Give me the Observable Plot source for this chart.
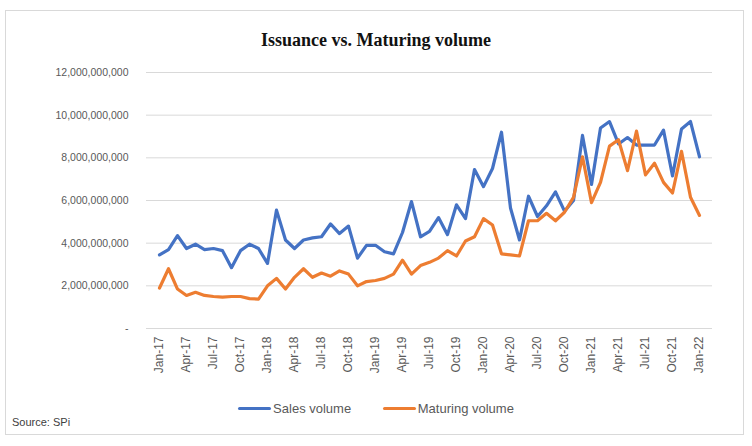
<!DOCTYPE html>
<html>
<head>
<meta charset="utf-8">
<script src="https://cdn.jsdelivr.net/npm/d3@7"></script>
<script src="https://cdn.jsdelivr.net/npm/@observablehq/plot@0.6"></script>
<style>
  html, body { margin: 0; padding: 0; background: #fff; }
  #wrap { position: relative; width: 752px; height: 446px; overflow: hidden; background: #fff; }
  #frame { position: absolute; left: 5px; top: 10px; width: 739px; height: 425px; border: 1px solid #d9d9d9; box-sizing: border-box; }
  #title { position: absolute; left: 0; width: 752px; top: 30px; text-align: center;
           font-family: "Liberation Serif", "DejaVu Serif", serif; font-weight: bold; font-size: 18px; color: #111; }
  #chart { position: absolute; left: 0; top: 60px; }
  #legend { position: absolute; left: 0; width: 752px; top: 398px; text-align: center;
            font-family: "Liberation Sans", sans-serif; font-size: 13px; color: #595959; }
  #legend .item { display: inline-flex; align-items: center; margin: 0 14px; }
  #legend .sw { display: inline-block; width: 33px; height: 3px; margin-right: 2px; border-radius: 2px; }
  #source { position: absolute; left: 12px; top: 416px; font-family: "Liberation Sans", sans-serif;
            font-size: 11px; color: #404040; }
</style>
</head>
<body>
<div id="wrap">
  <div id="frame"></div>
  <div id="title">Issuance vs. Maturing volume</div>
  <div id="chart"></div>
  <div id="legend">
    <span class="item"><span class="sw" style="background:#4472C4"></span>Sales volume</span>
    <span class="item"><span class="sw" style="background:#ED7D31"></span>Maturing volume</span>
  </div>
  <div id="source">Source: SPi</div>
</div>
<script>
const months = [
  "Jan-17","Feb-17","Mar-17","Apr-17","May-17","Jun-17","Jul-17","Aug-17","Sep-17","Oct-17","Nov-17","Dec-17",
  "Jan-18","Feb-18","Mar-18","Apr-18","May-18","Jun-18","Jul-18","Aug-18","Sep-18","Oct-18","Nov-18","Dec-18",
  "Jan-19","Feb-19","Mar-19","Apr-19","May-19","Jun-19","Jul-19","Aug-19","Sep-19","Oct-19","Nov-19","Dec-19",
  "Jan-20","Feb-20","Mar-20","Apr-20","May-20","Jun-20","Jul-20","Aug-20","Sep-20","Oct-20","Nov-20","Dec-20",
  "Jan-21","Feb-21","Mar-21","Apr-21","May-21","Jun-21","Jul-21","Aug-21","Sep-21","Oct-21","Nov-21","Dec-21",
  "Jan-22"
];
// values in billions
const salesVolume = [
  3.45, 3.70, 4.35, 3.75, 3.95, 3.70, 3.75, 3.65, 2.85, 3.65, 3.95, 3.75,
  3.05, 5.55, 4.15, 3.75, 4.15, 4.25, 4.30, 4.90, 4.45, 4.80, 3.30, 3.90,
  3.90, 3.60, 3.50, 4.50, 5.95, 4.30, 4.55, 5.20, 4.40, 5.80, 5.15, 7.45,
  6.65, 7.50, 9.20, 5.65, 4.15, 6.20, 5.25, 5.75, 6.40, 5.50, 6.00, 9.05,
  6.75, 9.40, 9.70, 8.65, 8.95, 8.60, 8.60, 8.60, 9.30, 7.15, 9.35, 9.70,
  8.05
];
const maturingVolume = [
  1.90, 2.80, 1.85, 1.55, 1.70, 1.55, 1.50, 1.47, 1.50, 1.50, 1.40, 1.38,
  2.00, 2.35, 1.85, 2.40, 2.80, 2.40, 2.60, 2.45, 2.70, 2.55, 2.00, 2.20,
  2.25, 2.35, 2.55, 3.20, 2.55, 2.95, 3.10, 3.30, 3.65, 3.40, 4.10, 4.30,
  5.15, 4.85, 3.50, 3.45, 3.40, 5.05, 5.05, 5.40, 5.05, 5.45, 6.15, 8.05,
  5.90, 6.85, 8.55, 8.85, 7.40, 9.25, 7.20, 7.75, 6.85, 6.35, 8.30, 6.15,
  5.30
];
const yTicks = [0, 2e9, 4e9, 6e9, 8e9, 10e9, 12e9];
const xTickLabels = ["Jan-17","Apr-17","Jul-17","Oct-17","Jan-18","Apr-18","Jul-18","Oct-18",
  "Jan-19","Apr-19","Jul-19","Oct-19","Jan-20","Apr-20","Jul-20","Oct-20",
  "Jan-21","Apr-21","Jul-21","Oct-21","Jan-22"];

const data = months.map((m, i) => ({month: m, sales: salesVolume[i] * 1e9, maturing: maturingVolume[i] * 1e9}));
const fmt = d3.format(",");

const chart = Plot.plot({
  width: 752,
  height: 325,
  marginLeft: 146,
  marginRight: 40,
  marginTop: 12,
  marginBottom: 57,
  style: {fontFamily: "'Liberation Sans', sans-serif", fontSize: "11px", background: "transparent"},
  x: {type: "point", domain: months, padding: 0.5, label: null},
  y: {domain: [0, 12e9], label: null},
  marks: [
    Plot.gridY(yTicks, {stroke: "#d9d9d9", strokeOpacity: 1, strokeWidth: 1}),
    Plot.axisY(yTicks, {tickSize: 0, tickPadding: 18, tickFormat: d => d === 0 ? "-" : fmt(d), color: "#595959", fontSize: 10.5, label: null}),
    Plot.axisX(xTickLabels, {tickSize: 0, tickPadding: 8, tickRotate: -90, color: "#595959", fontSize: 12, label: null}),
    Plot.lineY(data, {x: "month", y: "sales", stroke: "#4472C4", strokeWidth: 3.2}),
    Plot.lineY(data, {x: "month", y: "maturing", stroke: "#ED7D31", strokeWidth: 3.2})
  ]
});
document.getElementById("chart").appendChild(chart);
</script>
</body>
</html>
